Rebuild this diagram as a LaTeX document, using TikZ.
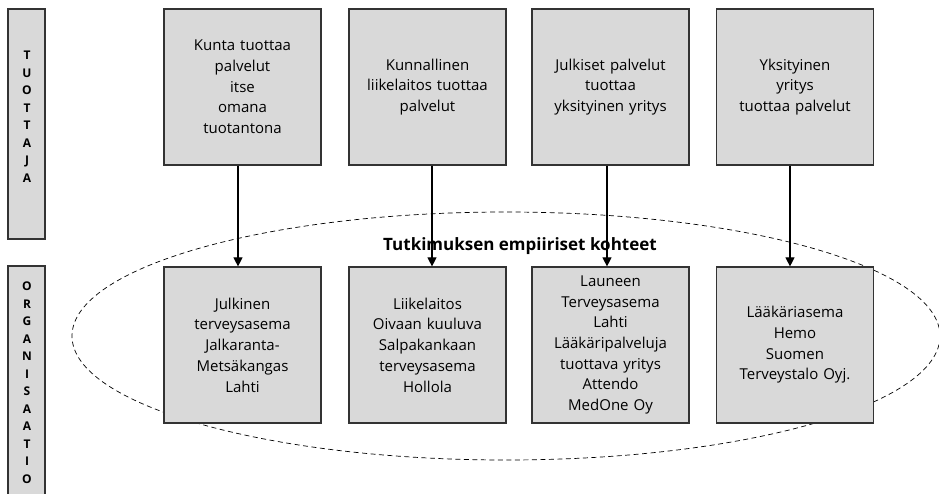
\documentclass[tikz,border=0pt]{standalone}
\usepackage{fontspec}
\setmainfont{Open Sans}
\usetikzlibrary{arrows.meta}
\definecolor{boxfill}{HTML}{D9D9D9}
\definecolor{boxline}{HTML}{333333}
\begin{document}
\begin{tikzpicture}[x=1pt,y=-1pt,
  pbox/.style={draw=boxline,line width=1.2pt,fill=boxfill,minimum width=157pt,minimum height=156pt,
    text width=152pt,align=center,inner sep=0pt,font=\fontsize{15}{20.7}\selectfont},
  sidebar/.style={draw=boxline,line width=1.2pt,fill=boxfill},
  vlabel/.style={align=center,font=\fontsize{12}{17.5}\selectfont\bfseries},
  conn/.style={-{Triangle[length=9pt,width=9pt]},line width=1.1pt}]
\useasboundingbox (0,0) rectangle (939,493);
% side bars
\draw[sidebar] (8,9) rectangle (45,239);
\draw[sidebar] (8,266) rectangle (45,505);
\node[vlabel] (lt) at (27,116.5) {T\\U\\O\\T\\T\\A\\J\\A};
\node[vlabel] (lo) at (27,382.5) {O\\R\\G\\A\\N\\I\\S\\A\\A\\T\\I\\O};
% ellipse
\draw[dashed,dash pattern=on 5pt off 3.5pt,line width=0.7pt] (506,336) ellipse [x radius=434,y radius=124];
% top boxes
\node[pbox] (t1) at (242.5,87) {Kunta tuottaa\\palvelut\\itse\\omana\\tuotantona};
\node[pbox] (t2) at (427.5,87) {Kunnallinen\\liikelaitos tuottaa\\palvelut\\[20.7pt]};
\node[pbox] (t3) at (610.5,87) {Julkiset palvelut\\tuottaa\\yksityinen yritys\\[20.7pt]};
\node[pbox] (t4) at (795,87) {Yksityinen\\yritys\\tuottaa palvelut\\[20.7pt]};
% bottom boxes
\node[pbox] (b1) at (242.5,345) {Julkinen\\terveysasema\\Jalkaranta-\\Metsäkangas\\Lahti};
\node[pbox] (b2) at (427.5,345) {Liikelaitos\\Oivaan kuuluva\\Salpakankaan\\terveysasema\\Hollola};
\node[pbox] (b3) at (610.5,345) {Launeen\\Terveysasema\\Lahti\\Lääkäripalveluja\\tuottava yritys\\Attendo\\MedOne Oy};
\node[pbox] (b4) at (795,345) {Lääkäriasema\\Hemo\\Suomen\\Terveystalo Oyj.};
% label
\node[font=\fontsize{17}{20}\selectfont\bfseries] (lab) at (520,246) {Tutkimuksen empiiriset kohteet};
% connectors
\draw[conn] ([xshift=-4.5pt]t1.south) -- ([xshift=-4.5pt]b1.north);
\draw[conn] ([xshift=4.5pt]t2.south) -- ([xshift=4.5pt]b2.north);
\draw[conn] ([xshift=-3.5pt]t3.south) -- ([xshift=-3.5pt]b3.north);
\draw[conn] ([xshift=-5pt]t4.south) -- ([xshift=-5pt]b4.north);
\end{tikzpicture}
\end{document}
